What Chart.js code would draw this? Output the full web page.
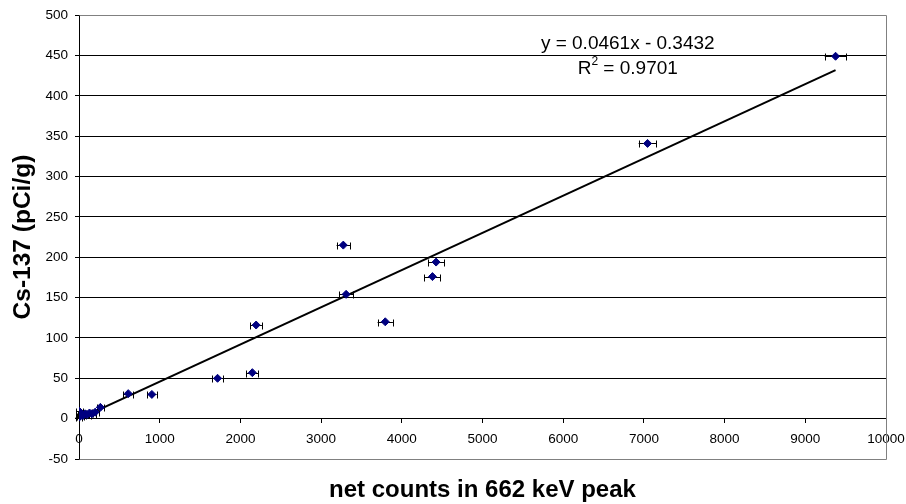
<!DOCTYPE html>
<html>
<head>
<meta charset="utf-8">
<title>Cs-137 calibration</title>
<script src="https://cdn.jsdelivr.net/npm/chart.js@4.4.0/dist/chart.umd.min.js"></script>
<style>
    html, body { margin: 0; padding: 0; background: #fff; }
    #wrap { width: 906px; height: 504px; }
</style>
</head>
<body>
<div id="wrap"><canvas id="calChart" width="906" height="504"></canvas></div>
<script>
// net counts in the 662 keV peak, with its uncertainty, and activity (pCi/g)
const netCounts = [9375, 7045, 3275, 4425, 4380, 3310, 3795, 2195, 2148, 1717, 903, 610, 265, 200, 160, 130, 100, 75, 50, 30, 15, 5, 0];
const countErr  = [134, 110, 83, 99, 99, 87, 95, 72, 76, 70, 58, 62, 48, 45, 45, 44, 44, 43, 42, 42, 42, 41, 41];
const activity  = [449, 341, 215, 194, 176, 154, 120, 116, 57, 50, 30, 31, 14, 8, 6, 7, 5, 6, 4, 6, 3, 9, 2];

// linear fit shown on the chart
const slope = 0.0461;
const intercept = -0.3432;
const fitText = ['y = 0.0461x - 0.3432', 'R', '2', ' = 0.9701'];

const xTicks = [0, 1000, 2000, 3000, 4000, 5000, 6000, 7000, 8000, 9000, 10000];
const yTicks = [-50, 0, 50, 100, 150, 200, 250, 300, 350, 400, 450, 500];
const xTitle = 'net counts in 662 keV peak';
const yTitle = 'Cs-137 (pCi/g)';

const FONT = 'Liberation Sans, Arial, sans-serif';
const GREY = '#808080';

const fitStart = Math.min(...netCounts);
const fitEnd = Math.max(...netCounts);

const errorBars = {
    id: 'errorBars',
    beforeDatasetsDraw(chart) {
        const x = chart.scales.x, y = chart.scales.y;
        const ctx = chart.ctx;
        ctx.save();
        ctx.strokeStyle = '#000';
        ctx.lineWidth = 1;
        netCounts.forEach((v, i) => {
            const py = Math.round(y.getPixelForValue(activity[i])) + 0.5;
            const x1 = x.getPixelForValue(v - countErr[i]);
            const x2 = x.getPixelForValue(v + countErr[i]);
            ctx.beginPath();
            ctx.moveTo(x1, py); ctx.lineTo(x2, py);
            ctx.moveTo(Math.round(x1) + 0.5, py - 3); ctx.lineTo(Math.round(x1) + 0.5, py + 4);
            ctx.moveTo(Math.round(x2) + 0.5, py - 3); ctx.lineTo(Math.round(x2) + 0.5, py + 4);
            ctx.stroke();
        });
        ctx.restore();
    }
};

const frameAndLabel = {
    id: 'frameAndLabel',
    afterDraw(chart) {
        const a = chart.chartArea;
        const ctx = chart.ctx;
        const x = chart.scales.x, y = chart.scales.y;
        ctx.save();
        // grey plot border (top / right / bottom), left edge stays the black axis
        ctx.strokeStyle = GREY;
        ctx.lineWidth = 1;
        ctx.beginPath();
        ctx.moveTo(Math.round(a.left) + 0.5, Math.round(a.top) + 0.5);
        ctx.lineTo(Math.round(a.right) + 0.5, Math.round(a.top) + 0.5);
        ctx.lineTo(Math.round(a.right) + 0.5, Math.round(a.bottom) + 0.5);
        ctx.lineTo(Math.round(a.left) + 0.5, Math.round(a.bottom) + 0.5);
        ctx.stroke();

        ctx.fillStyle = '#000';
        ctx.textBaseline = 'middle';
        ctx.textAlign = 'center';

        // x axis title, centred under the plot area
        ctx.font = 'bold 24px ' + FONT;
        ctx.fillText(xTitle, (a.left + a.right) / 2, 490);

        // trendline equation
        ctx.font = '19px ' + FONT;
        const cx = x.getPixelForValue(6800);
        ctx.fillText(fitText[0], cx, y.getPixelForValue(465));

        const ry = y.getPixelForValue(433);
        const w1 = ctx.measureText(fitText[1]).width;
        const w3 = ctx.measureText(fitText[3]).width;
        ctx.font = '12px ' + FONT;
        const w2 = ctx.measureText(fitText[2]).width;
        const sx = cx - (w1 + w2 + w3) / 2;
        ctx.textAlign = 'left';
        ctx.font = '19px ' + FONT;
        ctx.fillText(fitText[1], sx, ry);
        ctx.font = '12px ' + FONT;
        ctx.fillText(fitText[2], sx + w1, ry - 7);
        ctx.font = '19px ' + FONT;
        ctx.fillText(fitText[3], sx + w1 + w2, ry);
        ctx.restore();
    }
};

const ctx = document.getElementById('calChart').getContext('2d');
const calChart = new Chart(ctx, {
    type: 'scatter',
    data: {
        datasets: [{
            label: 'samples',
            data: netCounts.map((v, i) => ({ x: v, y: activity[i] })),
            pointStyle: 'rectRot',
            pointRadius: 4,
            backgroundColor: '#000080',
            borderColor: '#000080',
            borderWidth: 1,
            order: 1
        }, {
            label: 'fit',
            type: 'line',
            data: [
                { x: fitStart, y: slope * fitStart + intercept },
                { x: fitEnd, y: slope * fitEnd + intercept }
            ],
            borderColor: '#000',
            borderWidth: 2,
            pointRadius: 0,
            fill: false,
            order: 2
        }]
    },
    options: {
        responsive: false,
        animation: false,
        events: [],
        layout: { padding: { top: 14, right: 20, left: 0, bottom: 45 } },
        plugins: {
            legend: { display: false },
            tooltip: { enabled: false },
            title: { display: false }
        },
        scales: {
            x: {
                type: 'linear',
                position: { y: 0 },
                min: 0,
                max: 10000,
                afterBuildTicks: (scale) => { scale.ticks = xTicks.map(v => ({ value: v })); },
                afterFit: (scale) => { scale.paddingLeft = 0; scale.paddingRight = 0; },
                grid: {
                    drawOnChartArea: false,
                    drawTicks: true,
                    tickLength: 4,
                    tickColor: '#000'
                },
                border: { display: true, color: '#000', width: 1 },
                ticks: {
                    color: '#000',
                    padding: 9,
                    maxRotation: 0,
                    autoSkip: false,
                    callback: (v) => String(v),
                    font: { family: FONT, size: 13.5 }
                }
            },
            y: {
                type: 'linear',
                min: -50,
                max: 500,
                afterBuildTicks: (scale) => { scale.ticks = yTicks.map(v => ({ value: v })); },
                afterFit: (scale) => { scale.width = 79; },
                grid: {
                    color: (c) => (c.tick && (c.tick.value === 500 || c.tick.value === -50)) ? GREY : '#000',
                    tickLength: 4,
                    tickColor: '#000'
                },
                border: { display: true, color: '#000', width: 1 },
                ticks: {
                    color: '#000',
                    padding: 7,
                    autoSkip: false,
                    callback: (v) => String(v),
                    font: { family: FONT, size: 13.5 }
                },
                title: {
                    display: true,
                    text: yTitle,
                    color: '#000',
                    font: { family: FONT, size: 24.5, weight: 'bold' },
                    padding: { top: 9, bottom: 0 }
                }
            }
        }
    },
    plugins: [errorBars, frameAndLabel]
});
</script>
</body>
</html>
